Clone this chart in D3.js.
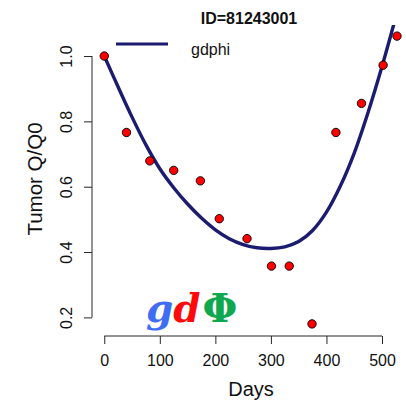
<!DOCTYPE html>
<html>
<head>
<meta charset="utf-8">
<script src="https://cdn.jsdelivr.net/npm/d3@7"></script>
<style>
  html, body { margin: 0; padding: 0; background: #fff; }
  svg { display: block; font-family: "Liberation Sans", Arial, sans-serif; }
</style>
</head>
<body>
<svg id="chart" width="406" height="404"></svg>
<script>
// ---- data ----
const obsDays   = [0, 40, 82, 125, 173, 207, 257, 301, 333, 374, 417, 463, 502, 527];
const obsValues = [1.0, 0.766, 0.679, 0.650, 0.618, 0.502, 0.441, 0.357, 0.357, 0.180, 0.766, 0.855, 0.972, 1.061];

const fitDays   = [0, 25, 50, 75, 100, 125, 150, 175, 200, 225, 250, 275, 300, 325, 350, 375, 400, 425, 450, 475, 500, 525, 540];
const fitValues = [1.0, 0.905, 0.813, 0.728, 0.655, 0.597, 0.547, 0.504, 0.468, 0.441, 0.423, 0.413, 0.411, 0.416, 0.432, 0.466, 0.522, 0.602, 0.703, 0.828, 0.968, 1.12, 1.21];

const xTicks = [0, 100, 200, 300, 400, 500];
const yTicks = [0.2, 0.4, 0.6, 0.8, 1.0];

const title = "ID=81243001";
const legendLabel = "gdphi";
const xLabel = "Days";
const yLabel = "Tumor Q/Q0";

// ---- layout ----
const box = { left: 92, right: 409, top: 25, bottom: 336 };
const svg = d3.select("#chart");

const x = d3.scaleLinear().domain([-22.1, 548.6]).range([box.left, box.right]);
const y = d3.scaleLinear().domain([0.143, 1.095]).range([box.bottom, box.top]);

const lineColor = "#1b1b70";
const axisColor = "#262626";

svg.append("defs").append("clipPath").attr("id", "plotclip")
  .append("rect")
  .attr("x", box.left).attr("y", box.top)
  .attr("width", box.right - box.left).attr("height", box.bottom - box.top);

// fitted curve
const fitPts = fitDays.map((d, i) => [d, fitValues[i]]);
svg.append("path")
  .attr("clip-path", "url(#plotclip)")
  .attr("d", d3.line().x(d => x(d[0])).y(d => y(d[1])).curve(d3.curveCatmullRom)(fitPts))
  .attr("fill", "none")
  .attr("stroke", lineColor)
  .attr("stroke-width", 3.4);

// observed points
svg.append("g").selectAll("circle")
  .data(obsDays.map((d, i) => [d, obsValues[i]]))
  .join("circle")
  .attr("cx", d => x(d[0]))
  .attr("cy", d => y(d[1]))
  .attr("r", 4.2)
  .attr("fill", "#ff0000")
  .attr("stroke", "#000")
  .attr("stroke-width", 0.9);

// x axis
const gx = svg.append("g").attr("transform", `translate(0,${box.bottom})`)
  .call(d3.axisBottom(x).tickValues(xTicks).tickFormat(d3.format("d")).tickSize(8).tickPadding(11));
gx.select(".domain").remove();
gx.append("line")
  .attr("x1", x(xTicks[0])).attr("x2", x(xTicks[xTicks.length - 1]))
  .attr("y1", 0).attr("y2", 0)
  .attr("stroke", axisColor);
gx.selectAll(".tick line").attr("stroke", axisColor);
gx.selectAll(".tick text").attr("fill", "#111").style("font-size", "16px")
  .style("font-family", "'Liberation Sans', Arial, sans-serif");

// y axis
const gy = svg.append("g").attr("transform", `translate(${box.left},0)`)
  .call(d3.axisLeft(y).tickValues(yTicks).tickFormat(d3.format(".1f")).tickSize(8));
gy.select(".domain").remove();
gy.append("line")
  .attr("x1", 0).attr("x2", 0)
  .attr("y1", y(yTicks[0])).attr("y2", y(yTicks[yTicks.length - 1]))
  .attr("stroke", axisColor);
gy.selectAll(".tick line").attr("stroke", axisColor);
gy.selectAll(".tick text")
  .attr("x", null).attr("dy", null)
  .attr("text-anchor", "middle")
  .attr("transform", "translate(-20,0) rotate(-90)")
  .attr("fill", "#111")
  .style("font-size", "16px")
  .style("font-family", "'Liberation Sans', Arial, sans-serif");

// axis labels
svg.append("text")
  .attr("x", 251).attr("y", 396)
  .attr("text-anchor", "middle")
  .style("font-size", "20px")
  .attr("fill", "#111")
  .text(xLabel);

svg.append("text")
  .attr("transform", "translate(41.5,179) rotate(-90)")
  .attr("text-anchor", "middle")
  .style("font-size", "20.5px")
  .attr("fill", "#111")
  .text(yLabel);

// title
svg.append("text")
  .attr("x", 249).attr("y", 23.5)
  .attr("text-anchor", "middle")
  .style("font-size", "16px")
  .style("font-weight", "bold")
  .attr("fill", "#111")
  .text(title);

// legend
svg.append("line")
  .attr("x1", 116).attr("x2", 168)
  .attr("y1", 44).attr("y2", 44)
  .attr("stroke", lineColor)
  .attr("stroke-width", 3);
svg.append("text")
  .attr("x", 191).attr("y", 54.5)
  .style("font-size", "16px")
  .attr("fill", "#111")
  .text(legendLabel);

// gdΦ logo
const logo = svg.append("text")
  .attr("x", 146).attr("y", 321.5)
  .style("font-family", "'DejaVu Serif', serif")
  .style("font-weight", "bold");
logo.append("tspan").text("g").attr("fill", "#3f6ef4")
  .style("font-style", "italic").style("font-size", "39px");
logo.append("tspan").text("d").attr("fill", "#ff0a0a")
  .style("font-style", "italic").style("font-size", "39px");
logo.append("tspan").text("Φ").attr("fill", "#10a84e")
  .style("font-size", "40px").attr("dx", 2);
</script>
</body>
</html>
